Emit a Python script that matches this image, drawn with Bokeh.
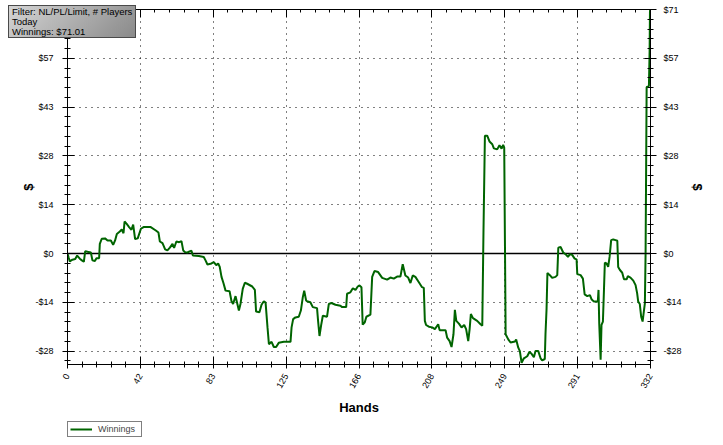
import math
from bokeh.plotting import figure
from bokeh.layouts import column
from bokeh.models import (FixedTicker, CustomJSTickFormatter, LinearAxis, Span,
                          Legend, LegendItem, Range1d, Div)
from bokeh.embed import file_html
from bokeh.resources import INLINE

# ---- data ----
hands = [0, 0.6, 1.3, 2.8, 4.4, 5.5, 7.0, 8.2, 9.3, 10.1, 11.4, 13.3, 14.2, 15.6, 16.5, 18.0,
         18.4, 19.5, 21.4, 22.8, 24.7, 26.0, 27.1, 28.1, 29.8, 30.9, 31.9, 32.5, 33.6, 35.1,
         36.4, 37.4, 38.5, 40.0, 41.8, 43.3, 47.4, 50.3, 51.8, 52.6, 54.1, 55.6, 56.9, 58.3,
         59.8, 60.7, 62.0, 63.6, 64.9, 65.9, 67.0, 68.3,
         69.5, 70.6, 71.4, 74.8, 77.6, 78.6, 79.7, 82.0, 83.3, 84.7, 85.8, 86.7, 87.7, 88.8,
         90.0, 92.3, 93.4, 94.3, 95.7, 96.6, 97.6, 98.5, 99.8, 101.0, 102.3, 105.2, 106.7,
         107.4, 109.3, 110.5, 111.8, 112.8, 113.9, 114.7, 116.2, 117.5, 118.8, 120.3, 123.2,
         127.0, 127.6, 128.5, 129.8, 131.7, 132.9, 134.0, 134.8, 135.9,
         136.4, 138.3, 139.7, 142.1, 142.7, 143.5, 144.4, 145.4, 147.8, 148.8, 150.3, 152.6,
         155.4, 156.4, 158.7, 159.2, 161.1, 162.5, 164.0, 165.3, 166.3, 167.4, 168.1, 169.3,
         170.2, 172.5, 173.5, 174.8, 176.9, 179.2, 182.0, 183.9, 185.8, 187.7, 189.6, 190.9,
         192.4, 194.0, 195.3, 196.6, 198.1, 200.0, 201.9, 202.9, 203.5, 204.2,
         205.8, 207.7, 209.2, 211.1, 211.9, 215.3, 216.2, 217.6, 218.7, 219.8, 220.6, 221.4,
         222.9, 224.4, 225.9, 227.0, 228.2, 229.0, 229.7, 230.9, 233.3, 235.2, 236.2, 236.9,
         237.7, 239.0, 240.3, 241.9, 242.8, 244.7, 246.0, 247.2, 248.1, 248.7, 249.1, 249.5,
         251.0, 252.3, 254.8, 255.5, 256.7, 257.6, 258.6, 259.9, 261.8, 263.1, 264.3, 265.6,
         266.5, 268.1, 269.4, 270.3, 271.8,
         272.2, 272.8, 273.3, 274.7, 276.0, 277.9, 278.9, 279.5, 280.8, 282.3, 283.6, 285.0,
         286.1, 287.4, 288.8, 289.9, 290.3, 292.2, 293.5, 294.5, 296.0, 297.5, 298.4, 299.8,
         302.0, 302.4, 302.8, 303.6, 304.1, 304.9, 305.5, 306.0, 307.0, 307.9, 308.7, 309.6,
         310.8, 312.1, 313.1, 313.6, 314.6, 315.9, 316.9, 318.4, 319.1, 320.6, 322.2, 323.5,
         324.4, 325.0, 325.9, 326.7, 327.5, 328.2, 328.8, 329.2, 329.4, 329.8, 331.1, 331.5,
         331.7, 332.0]
winnings = [0.0, -1.1, -2.3, -1.8, -1.6, -0.6, -1.5, -2.0, -2.4, 0.7, 0.5, 0.3, -2.0, -2.2, -1.4, -1.4,
            2.8, 4.3, 4.4, 3.8, 3.8, 2.5, 3.8, 5.7, 6.4, 7.0, 5.9, 9.3, 8.7, 7.7,
            6.9, 8.4, 4.2, 4.4, 7.2, 7.7, 7.7, 6.7, 6.1, 3.5, 3.0, 1.2, 0.9, 1.7,
            2.8, 1.6, 3.5, 3.3, 3.6, 0.9, 0.4, 0.3,
            0.6, 0.8, -0.6, -0.7, -1.0, -2.0, -3.2, -2.9, -2.5, -3.4, -2.9, -3.9, -6.8, -8.6,
            -10.8, -11.0, -13.9, -14.7, -12.4, -14.4, -16.6, -14.7, -10.3, -8.5, -8.8, -9.6, -10.6,
            -16.9, -17.1, -14.9, -13.9, -14.3, -21.5, -26.4, -25.7, -27.2, -27.2, -26.0, -25.7,
            -25.7, -21.5, -19.1, -18.6, -18.4, -16.6, -12.7, -10.8, -13.7,
            -13.9, -14.2, -15.6, -15.9, -19.6, -24.0, -21.0, -18.1, -18.4, -14.7, -14.4, -14.9,
            -15.2, -15.6, -15.6, -11.7, -11.3, -10.1, -10.6, -9.6, -9.3, -9.8, -20.7, -20.0,
            -18.4, -17.8, -6.8, -5.1, -5.4, -7.1, -7.6, -7.0, -7.3, -6.7, -6.7, -3.1,
            -6.4, -7.0, -8.6, -6.4, -6.8, -8.3, -9.8, -10.0, -19.6, -20.8,
            -21.3, -21.5, -22.0, -20.6, -22.3, -22.3, -24.5, -25.5, -27.2, -23.5, -16.4, -19.6,
            -20.4, -21.5, -20.8, -22.0, -25.5, -22.0, -17.6, -18.8, -19.6, -20.6, -21.0, 6.9,
            34.3, 34.3, 32.6, 31.8, 30.6, 30.3, 31.5, 30.5, 31.6, 30.8, 3.9, -23.5,
            -25.0, -25.9, -25.6, -25.0, -27.4, -28.4, -31.8, -30.5, -29.9, -28.6, -29.2, -30.2,
            -28.4, -28.4, -30.5, -31.1, -30.7,
            -23.5, -16.2, -5.7, -6.3, -7.1, -6.8, -6.3, 1.7, 1.9, 0.3, -0.2, -1.0,
            -0.2, -0.4, -1.5, -1.7, -6.0, -6.3, -7.3, -11.9, -12.4, -12.1, -13.3, -14.0,
            -14.0, -10.6, -20.3, -30.9, -20.8, -19.8, -10.6, -2.7, -2.9, -3.9, -1.0, 3.9,
            4.1, 3.9, 3.7, -3.9, -4.8, -5.6, -7.5, -7.5, -6.6, -7.0, -7.9, -9.2,
            -11.6, -14.0, -14.7, -18.4, -19.8, -16.9, -14.5, 0.0, 16.0, 48.4, 48.8, 59.0,
            70.6, 71.01]

x_max = 332
y_max = 71.01
y_min = -32.3
x_intervals = 8
y_intervals_up = 5
info_lines = ["Filter: NL/PL/Limit, # Players", "Today", "Winnings: $71.01"]
series_name = "Winnings"

# ---- ticks ----
x_major = [x_max * i / x_intervals for i in range(x_intervals + 1)]
x_minor = [x_max * i / (x_intervals * 5) for i in range(x_intervals * 5 + 1)]
y_step = y_max / y_intervals_up
y_major = [y_step * k for k in range(-2, y_intervals_up + 1)]
y_minor = [y_step * k / 5 for k in range(-11, y_intervals_up * 5 + 1)]

xt = FixedTicker(ticks=x_major, minor_ticks=x_minor)
yt = FixedTicker(ticks=y_major, minor_ticks=y_minor)
xfmt = CustomJSTickFormatter(code="return Math.round(tick).toString();")
yfmt = CustomJSTickFormatter(code="const v = Math.round(tick); return (v < 0 ? '-$' : '$') + Math.abs(v);")

FONT = "Liberation Sans"
W = 722

p = figure(width=W, height=420, x_range=Range1d(0, x_max), y_range=Range1d(y_min, y_max),
           output_backend="svg", toolbar_location=None,
           min_border_left=67, min_border_right=72, min_border_top=9, min_border_bottom=56)
p.background_fill_color = "white"
p.border_fill_color = "white"
p.outline_line_color = "black"
p.outline_line_width = 1

def style_axis(ax, tin, tout, mtin, mtout):
    ax.axis_line_color = "black"
    ax.axis_line_width = 1
    ax.major_tick_line_color = "black"
    ax.minor_tick_line_color = "black"
    ax.major_tick_in = tin
    ax.major_tick_out = tout
    ax.minor_tick_in = mtin
    ax.minor_tick_out = mtout
    ax.major_label_text_font = FONT
    ax.major_label_text_font_size = "9px"
    ax.major_label_text_color = "black"
    ax.axis_label_text_font = FONT
    ax.axis_label_text_font_size = "13px"
    ax.axis_label_text_font_style = "bold"
    ax.axis_label_text_color = "black"

# bottom axis
xa = p.xaxis[0]
xa.ticker = xt
xa.formatter = xfmt
xa.axis_label = "Hands"
style_axis(xa, 8, 4, 3, 3)
xa.major_label_orientation = math.radians(60)
xa.major_label_standoff = 6
xa.axis_label_standoff = 6

# left axis
ya = p.yaxis[0]
ya.ticker = yt
ya.formatter = yfmt
ya.axis_label = "$"
style_axis(ya, 7, 5, 3, 3)
ya.major_label_standoff = 9
ya.axis_label_standoff = -4

# right axis
ra = LinearAxis(ticker=yt, formatter=yfmt, axis_label="$")
style_axis(ra, 6, 6, 3, 3)
ra.major_label_standoff = 7
ra.axis_label_standoff = 5
p.add_layout(ra, "right")

# top axis: ticks only
ta = LinearAxis(ticker=xt, formatter=CustomJSTickFormatter(code="return '';"))
style_axis(ta, 8, 0, 3, 0)
ta.major_label_text_font_size = "6px"
ta.major_label_standoff = 0
p.add_layout(ta, "above")

# grids
p.xgrid.ticker = FixedTicker(ticks=x_major[1:-1])
p.ygrid.ticker = FixedTicker(ticks=y_major)
for g in (p.xgrid[0], p.ygrid[0]):
    g.grid_line_color = "black"
    g.grid_line_dash = "1 5"
    g.grid_line_width = 1
    g.grid_line_alpha = 1.0

# zero line
p.add_layout(Span(location=0, dimension="width", line_color="black", line_width=1.3,
                  level="underlay"))

r = p.line(hands, winnings, line_color="#006400", line_width=2)

# legend strip below the chart (its sample line lies outside the strip's visible range)
lg = figure(width=W, height=24, output_backend="svg", toolbar_location=None,
            x_range=Range1d(10, 11), y_range=Range1d(10, 11),
            x_axis_location=None, y_axis_location=None,
            min_border_left=0, min_border_right=0, min_border_top=0, min_border_bottom=0)
lg.outline_line_color = None
lg.grid.visible = False
lr = lg.line([0, 1], [0, 1], line_color="#006400", line_width=2)
legend = Legend(items=[LegendItem(label=series_name, renderers=[lr])],
                location=(0, 7), orientation="horizontal", margin=0, padding=2,
                label_height=10, glyph_height=10, glyph_width=22, label_standoff=6,
                label_width=41, label_text_font=FONT, label_text_font_size="9px",
                border_line_color="black", border_line_width=1, spacing=0,
                background_fill_color="white", background_fill_alpha=1)
lg.add_layout(legend)

info = Div(text="<br>".join(info_lines), width=128, height=33,
           styles={"position": "absolute", "left": "3px", "top": "0px", "z-index": "10",
                   "background": "linear-gradient(135deg, #d4d4d4, #8a8a8a)",
                   "border": "1px solid #4a4a4a", "box-sizing": "border-box",
                   "font-family": "Liberation Sans", "font-size": "9.5px",
                   "line-height": "10px", "padding": "1px 3px", "color": "black",
                   "overflow": "hidden", "white-space": "nowrap"})

edge = Div(text="", width=1, height=444,
           styles={"position": "absolute", "left": "719px", "top": "0px", "z-index": "10",
                   "width": "1px", "height": "444px", "background": "#3a3a3a"})

layout = column(p, lg, info, edge, spacing=0)
open("out.html", "w").write(file_html(layout, INLINE))
